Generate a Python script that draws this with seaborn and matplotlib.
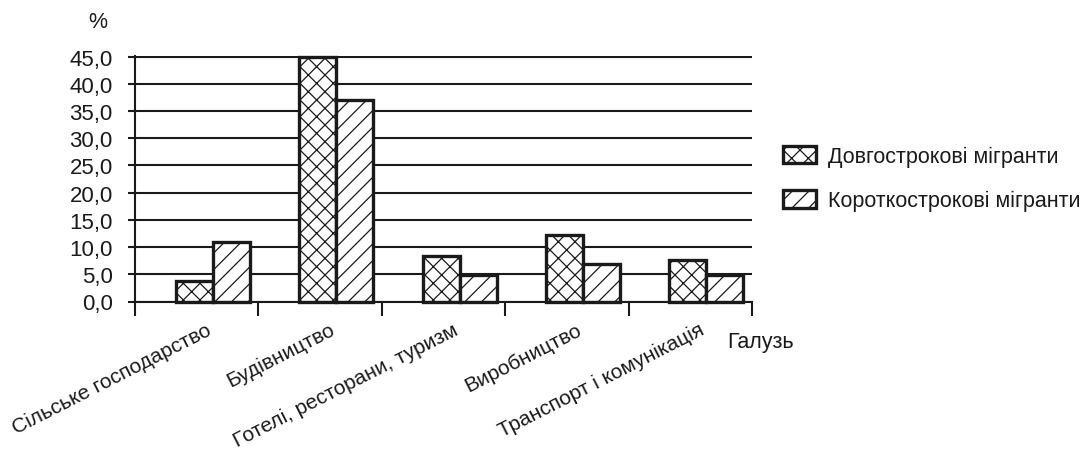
import matplotlib
matplotlib.use("Agg")
import matplotlib.pyplot as plt
import numpy as np
import pandas as pd
import seaborn as sns

# Data: share of migrants by economic sector, %
categories = [
    "Сільське господарство",
    "Будівництво",
    "Готелі, ресторани, туризм",
    "Виробництво",
    "Транспорт і комунікація",
]
long_term = [3.7, 45.0, 8.3, 12.2, 7.6]
short_term = [11.0, 37.0, 4.9, 6.9, 4.9]
series_names = ["Довгострокові мігранти", "Короткострокові мігранти"]
y_ticks = [0, 5, 10, 15, 20, 25, 30, 35, 40, 45]
y_tick_labels = ["0,0", "5,0", "10,0", "15,0", "20,0", "25,0", "30,0", "35,0", "40,0", "45,0"]

df = pd.DataFrame({
    "Галузь": categories * 2,
    "Частка": long_term + short_term,
    "Група": [series_names[0]] * len(categories) + [series_names[1]] * len(categories),
})

sns.set_theme(style="white")
plt.rcParams["font.family"] = ["Liberation Sans", "DejaVu Sans"]
plt.rcParams["hatch.linewidth"] = 0.9
plt.rcParams["hatch.color"] = "#1a1a1a"

INK = "#1a1a1a"
FS_Y = 16
FS_X = 15
FS_LEG = 15.5

fig = plt.figure(figsize=(10.86, 4.52), dpi=100)
ax = fig.add_axes([135 / 1086, 1 - 302.5 / 452, (752 - 135) / 1086, (302.5 - 57) / 452])

sns.barplot(
    data=df, x="Галузь", y="Частка", hue="Група",
    palette=["white", "white"], saturation=1,
    edgecolor=INK, linewidth=2.4, width=0.6,
    ax=ax, legend=False,
)

hatches = ["xx", "//"]
for cont, h in zip(ax.containers, hatches):
    for bar in cont:
        bar.set_hatch(h)
        bar.set_clip_on(False)

# axes limits, grid and spines
ax.set_xlim(-0.63, 4.37)
ax.set_ylim(0, 45.1)
ax.set_axisbelow(True)
ax.yaxis.grid(True, color=INK, linewidth=1.5)
ax.xaxis.grid(False)
for side in ("top", "right"):
    ax.spines[side].set_visible(False)
for side in ("left", "bottom"):
    ax.spines[side].set_color(INK)
    ax.spines[side].set_linewidth(1.5)

ax.set_yticks(y_ticks, y_tick_labels)
ax.tick_params(axis="y", left=True, direction="out", length=5, width=1.5,
               color=INK, pad=11, labelsize=FS_Y, labelcolor=INK)

ax.set_xticks(np.arange(len(categories)) - 0.06, categories,
              rotation=27, ha="right", rotation_mode="anchor")
ax.tick_params(axis="x", which="major", bottom=False, length=0, pad=13,
               labelsize=FS_X, labelcolor=INK)
ax.set_xticks(np.arange(len(categories) + 1) - 0.63, minor=True)
ax.tick_params(axis="x", which="minor", bottom=True, direction="out",
               length=10, width=1.5, color=INK)
ax.set_xlabel("")
ax.set_ylabel("")

handles = [cont.patches[0] for cont in ax.containers]
ax.legend(
    handles, series_names,
    loc="center left", bbox_to_anchor=(783 / 1086, 1 - 179.5 / 452),
    bbox_transform=fig.transFigure, frameon=False,
    handlelength=1.55, handleheight=0.85, handletextpad=0.55,
    labelspacing=1.1, borderpad=0, borderaxespad=0, fontsize=FS_LEG,
    labelcolor=INK,
)

fig.text(98 / 1086, 1 - 22 / 452, "%", ha="center", va="center", fontsize=FS_LEG, color=INK)
fig.text(727 / 1086, 1 - 343 / 452, "Галузь", ha="left", va="center", fontsize=FS_LEG, color=INK)

fig.savefig("out.png", dpi=100, facecolor="white")
